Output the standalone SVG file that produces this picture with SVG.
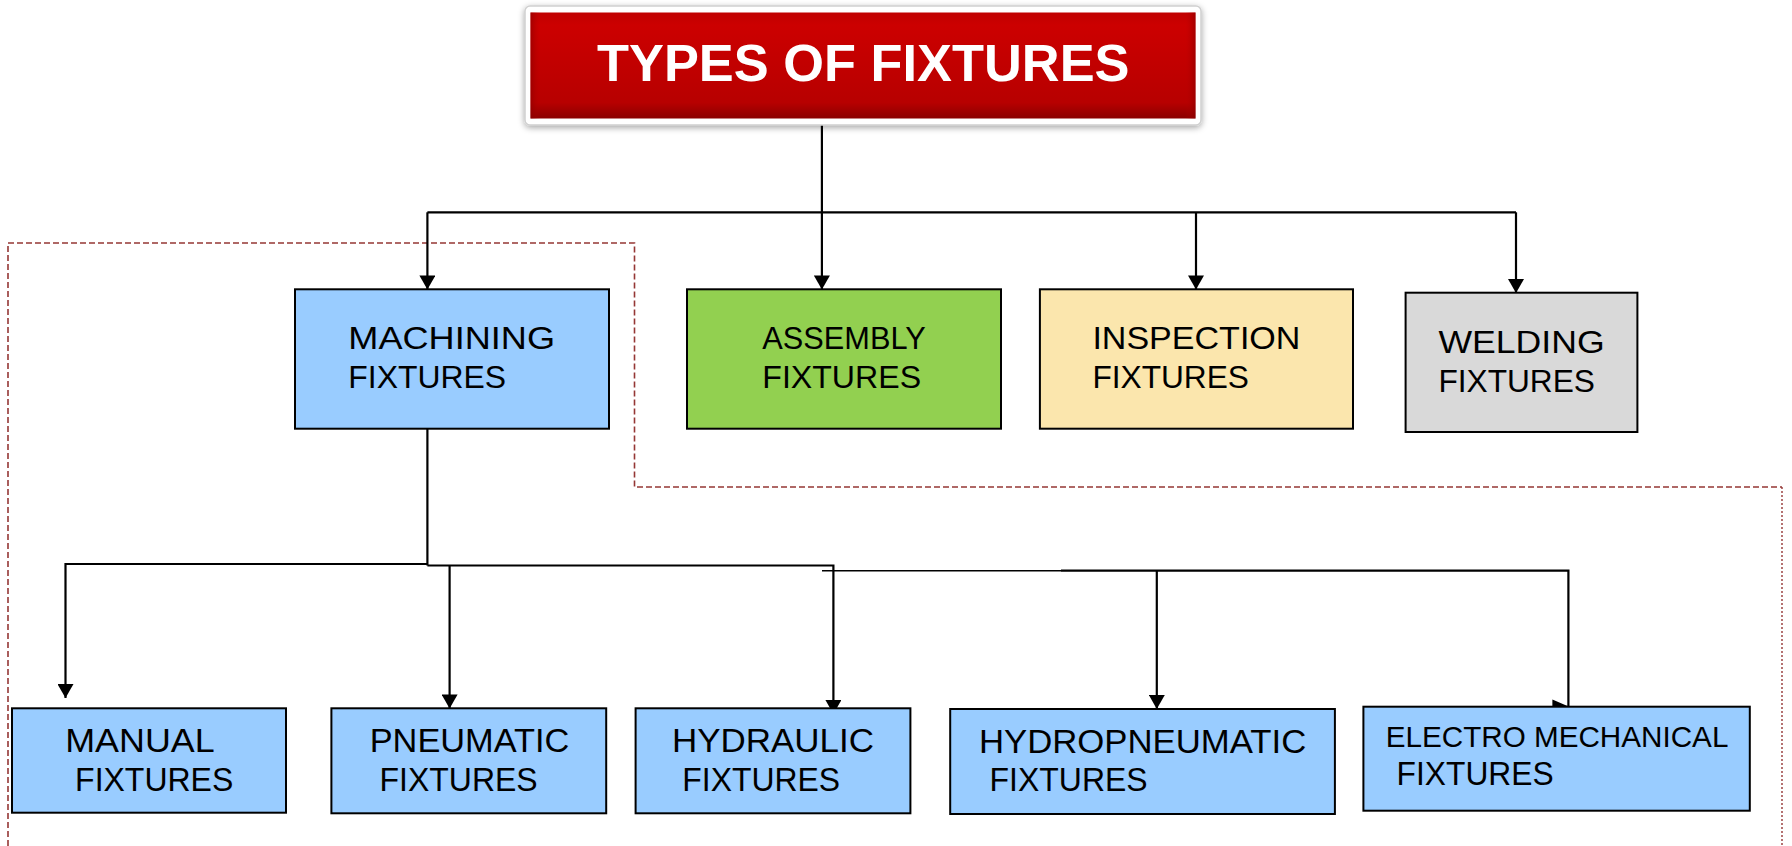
<svg xmlns="http://www.w3.org/2000/svg" width="1792" height="846" viewBox="0 0 1792 846">
  <defs>
    <style>
      .box { stroke: #000; stroke-width: 2; }
      .blue { fill: #99ccff; }
      .green { fill: #92d050; }
      .yellow { fill: #fbe6ad; }
      .grey { fill: #d9d9d9; }
      .lbl { font-family: "Liberation Sans", Arial, sans-serif; font-size: 32px; fill: #000; }
      .lbl2 { font-family: "Liberation Sans", Arial, sans-serif; font-size: 33px; fill: #000; }
      .lbl3 { font-family: "Liberation Sans", Arial, sans-serif; font-size: 30px; fill: #000; }
      .title { font-family: "Liberation Sans", Arial, sans-serif; font-size: 51px; font-weight: bold; fill: #fff; }
      .wire { fill: none; stroke: #000; stroke-width: 2.2; }
      .thin { fill: none; stroke: #000; stroke-width: 1.5; }
      .group-outline { fill: none; stroke: #953735; stroke-width: 1.6; stroke-dasharray: 6 3; }
      .group-edge { fill: none; stroke: #953735; stroke-width: 1.4; stroke-dasharray: 2 2; }
    </style>
    <marker id="arrow" markerUnits="userSpaceOnUse" markerWidth="16" markerHeight="16" viewBox="0 0 14 16" refX="14" refY="8" orient="auto">
      <path d="M0,0 L14,8 L0,16 z" fill="#000"/>
    </marker>
    <marker id="arrow-right" markerUnits="userSpaceOnUse" markerWidth="16" markerHeight="16" viewBox="0 0 16 14" refX="16" refY="7" orient="0">
      <path d="M0,0 L16,7 L0,14 z" fill="#000"/>
    </marker>
    <linearGradient id="redFace" x1="0" y1="0" x2="0" y2="1">
      <stop offset="0" stop-color="#c00000"/>
      <stop offset="0.12" stop-color="#cc0000"/>
      <stop offset="0.85" stop-color="#b70000"/>
      <stop offset="1" stop-color="#8a0000"/>
    </linearGradient>
    <linearGradient id="redSide" x1="0" y1="0" x2="1" y2="0">
      <stop offset="0" stop-color="#8a0000" stop-opacity="0.6"/>
      <stop offset="0.015" stop-color="#b70000" stop-opacity="0"/>
      <stop offset="0.985" stop-color="#b70000" stop-opacity="0"/>
      <stop offset="1" stop-color="#8a0000" stop-opacity="0.6"/>
    </linearGradient>
    <filter id="shadow" x="-5%" y="-20%" width="110%" height="140%">
      <feDropShadow dx="0" dy="2" stdDeviation="3" flood-color="#000" flood-opacity="0.35"/>
    </filter>
  </defs>

  <rect width="1792" height="846" fill="#fff"/>

  <!-- dashed grouping outline around the machining branch -->
  <g id="machining-group">
    <path class="group-outline" d="M8 846 V243 H634.5 V487 H1782"/>
    <path class="group-edge" d="M1782 487 V846"/>
  </g>

  <!-- connectors -->
  <g id="connectors">
    <path class="wire" d="M821.9 118 V212.3"/>
    <path class="wire" d="M427.4 212.3 H1516"/>
    <path class="wire" marker-end="url(#arrow)" d="M427.4 212.3 V289.5"/>
    <path class="wire" marker-end="url(#arrow)" d="M821.9 212.3 V289.5"/>
    <path class="wire" marker-end="url(#arrow)" d="M1196 212.3 V289.5"/>
    <path class="wire" marker-end="url(#arrow)" d="M1516 212.3 V293"/>

    <path class="wire" d="M427.4 428.7 V565.5"/>
    <path class="wire" marker-end="url(#arrow)" d="M427.4 564 H65.5 V698"/>
    <path class="wire" marker-end="url(#arrow)" d="M427.4 565.5 H833.4 V714"/>
    <path class="wire" marker-end="url(#arrow)" d="M449.6 565.5 V708.5"/>
    <path class="thin" d="M822 570.7 H1061"/>
    <path class="wire" marker-end="url(#arrow-right)" d="M1061 570.7 H1568.4 V706.5"/>
    <path class="wire" marker-end="url(#arrow)" d="M1156.8 570.7 V709"/>
  </g>

  <!-- root -->
  <g id="types-of-fixtures">
    <rect x="525" y="6" width="676" height="119" rx="5" fill="#fff" stroke="#d0d0d0" stroke-width="1.5" filter="url(#shadow)"/>
    <rect x="530.5" y="12.5" width="665" height="106" fill="url(#redFace)"/>
    <rect x="530.5" y="12.5" width="665" height="106" fill="url(#redSide)"/>
    <text class="title" x="597" y="81" textLength="532.5" lengthAdjust="spacingAndGlyphs">TYPES OF FIXTURES</text>
  </g>

  <!-- first level -->
  <g id="machining">
    <rect class="box blue" x="295" y="289.3" width="314" height="139.4"/>
    <text class="lbl" x="348.3" y="349.3" textLength="206.7" lengthAdjust="spacingAndGlyphs">MACHINING</text>
    <text class="lbl" x="348.3" y="388.3" textLength="157.7" lengthAdjust="spacingAndGlyphs">FIXTURES</text>
  </g>
  <g id="assembly">
    <rect class="box green" x="687" y="289.3" width="314" height="139.4"/>
    <text class="lbl" x="762.3" y="349.3" textLength="163.4" lengthAdjust="spacingAndGlyphs">ASSEMBLY</text>
    <text class="lbl" x="762.3" y="388.3" textLength="158.8" lengthAdjust="spacingAndGlyphs">FIXTURES</text>
  </g>
  <g id="inspection">
    <rect class="box yellow" x="1039.9" y="289.3" width="313.1" height="139.4"/>
    <text class="lbl" x="1092.4" y="349.3" textLength="208" lengthAdjust="spacingAndGlyphs">INSPECTION</text>
    <text class="lbl" x="1092.4" y="388.3" textLength="156.6" lengthAdjust="spacingAndGlyphs">FIXTURES</text>
  </g>
  <g id="welding">
    <rect class="box grey" x="1405.6" y="292.7" width="231.8" height="139.3"/>
    <text class="lbl" x="1438.4" y="353.3" textLength="166.2" lengthAdjust="spacingAndGlyphs">WELDING</text>
    <text class="lbl" x="1438.4" y="392" textLength="156.6" lengthAdjust="spacingAndGlyphs">FIXTURES</text>
  </g>

  <!-- machining sub-types -->
  <g id="manual">
    <rect class="box blue" x="12" y="708.3" width="274" height="104.4"/>
    <text class="lbl2" x="65.2" y="751.7" textLength="149.5" lengthAdjust="spacingAndGlyphs">MANUAL</text>
    <text class="lbl2" x="75.1" y="790.7" textLength="158.2" lengthAdjust="spacingAndGlyphs">FIXTURES</text>
  </g>
  <g id="pneumatic">
    <rect class="box blue" x="331.4" y="708.3" width="274.8" height="105"/>
    <text class="lbl2" x="369.7" y="751.7" textLength="199.7" lengthAdjust="spacingAndGlyphs">PNEUMATIC</text>
    <text class="lbl2" x="379.6" y="790.7" textLength="158.1" lengthAdjust="spacingAndGlyphs">FIXTURES</text>
  </g>
  <g id="hydraulic">
    <rect class="box blue" x="635.6" y="708.3" width="274.8" height="105"/>
    <text class="lbl2" x="672" y="751.7" textLength="202" lengthAdjust="spacingAndGlyphs">HYDRAULIC</text>
    <text class="lbl2" x="682.3" y="790.7" textLength="157.7" lengthAdjust="spacingAndGlyphs">FIXTURES</text>
  </g>
  <g id="hydropneumatic">
    <rect class="box blue" x="950.2" y="709" width="384.7" height="105"/>
    <text class="lbl2" x="978.9" y="752.5" textLength="327.4" lengthAdjust="spacingAndGlyphs">HYDROPNEUMATIC</text>
    <text class="lbl2" x="989.6" y="791" textLength="158" lengthAdjust="spacingAndGlyphs">FIXTURES</text>
  </g>
  <g id="electro-mechanical">
    <rect class="box blue" x="1363.4" y="706.7" width="386.4" height="104"/>
    <text class="lbl3" x="1385.7" y="747.3" textLength="342.7" lengthAdjust="spacingAndGlyphs">ELECTRO MECHANICAL</text>
    <text class="lbl2" x="1396.6" y="785" textLength="157" lengthAdjust="spacingAndGlyphs">FIXTURES</text>
  </g>
</svg>
